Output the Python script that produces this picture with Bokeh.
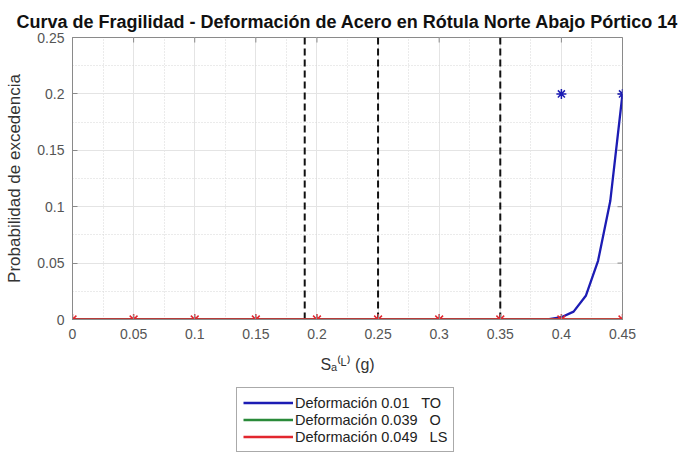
import math
from bokeh.plotting import figure
from bokeh.layouts import column
from bokeh.models import FixedTicker, Legend, LegendItem
from bokeh.embed import file_html
from bokeh.resources import INLINE

# ---- data ----
title_text = "Curva de Fragilidad - Deformación de Acero en Rótula Norte Abajo Pórtico 14"
x_label = "Sₐ⁽ᴸ⁾ (g)"
y_label = "Probabilidad de excedencia"
x_ticks = [0, 0.05, 0.1, 0.15, 0.2, 0.25, 0.3, 0.35, 0.4, 0.45]
y_ticks = [0, 0.05, 0.1, 0.15, 0.2, 0.25]

blue_x = [0, 0.05, 0.1, 0.15, 0.2, 0.25, 0.3, 0.35, 0.38, 0.39, 0.40, 0.41, 0.42, 0.43, 0.44, 0.45]
blue_y = [0, 0, 0, 0, 0, 0, 0, 0, 0, 0.0003, 0.002, 0.007, 0.021, 0.052, 0.105, 0.200]
green_x = [0, 0.05, 0.1, 0.15, 0.2, 0.25, 0.3, 0.35, 0.4, 0.45]
green_y = [0, 0, 0, 0, 0, 0, 0, 0, 0, 0]
red_x = [0, 0.05, 0.1, 0.15, 0.2, 0.25, 0.3, 0.35, 0.4, 0.45]
red_y = [0, 0, 0, 0, 0, 0, 0, 0, 0, 0]
blue_star_x = [0.40, 0.45]
blue_star_y = [0.20, 0.20]
vline_x = [0.19, 0.25, 0.35]
legend_labels = ["Deformación 0.01   TO", "Deformación 0.039   O", "Deformación 0.049   LS"]

BLUE = "#1c1cb4"
GREEN = "#2a8a3a"
RED = "#e2262e"
FONT = "Liberation Sans"
AXC = "#8a8a8a"

p = figure(width=684, height=380, output_backend="svg", toolbar_location=None,
           x_range=(0, 0.45), y_range=(0, 0.25),
           min_border_left=72, min_border_right=62, min_border_top=37, min_border_bottom=61)

p.title.text = title_text
p.title.align = "center"
p.title.vertical_align = "top"
p.title.text_font = FONT
p.title.text_font_style = "bold"
p.title.text_font_size = "18px"
p.title.text_color = "#111111"
p.title.standoff = 8

xt = FixedTicker(ticks=x_ticks, minor_ticks=[0.025 + 0.05 * i for i in range(9)])
yt = FixedTicker(ticks=y_ticks, minor_ticks=[0.025 + 0.05 * i for i in range(5)])

# axes
for ax in (p.xaxis[0], p.yaxis[0]):
    ax.major_tick_in = 5
    ax.major_tick_out = 0
    ax.minor_tick_in = 0
    ax.minor_tick_out = 0
    ax.axis_line_color = AXC
    ax.major_tick_line_color = AXC
    ax.major_label_text_font = FONT
    ax.major_label_text_font_size = "14px"
    ax.major_label_text_color = "#555555"
    ax.axis_label_text_font = FONT
    ax.axis_label_text_font_style = "normal"
    ax.axis_label_text_color = "#333333"
    ax.axis_label_text_font_size = "16px"
p.yaxis[0].axis_label_text_font_size = "17px"
p.xaxis[0].ticker = xt
p.yaxis[0].ticker = yt
p.xaxis[0].major_label_overrides = {t: ("%g" % t) for t in x_ticks}
p.yaxis[0].major_label_overrides = {t: ("%g" % t) for t in y_ticks}
p.xaxis[0].major_label_standoff = 9
p.yaxis[0].major_label_standoff = 8
p.xaxis[0].axis_label = x_label
p.yaxis[0].axis_label = y_label
p.xaxis[0].axis_label_standoff = 14
p.yaxis[0].axis_label_standoff = 10

p.outline_line_color = AXC
p.outline_line_alpha = 1

p.grid.grid_line_color = "#e4e4e4"
p.grid.grid_line_width = 1
p.grid.minor_grid_line_color = "#d6d6d6"
p.grid.minor_grid_line_dash = "1 2"

# mirrored box ticks on top and right edges (half of each dash is clipped by the frame)
p.scatter(x_ticks, [y_ticks[-1]] * len(x_ticks), marker="dash", angle=math.pi / 2,
          size=10, line_color=AXC, line_width=1)
p.scatter([x_ticks[-1]] * len(y_ticks), y_ticks, marker="dash",
          size=10, line_color=AXC, line_width=1)

# vertical dashed lines
p.segment(x0=vline_x, y0=[y_ticks[0]] * 3, x1=vline_x, y1=[y_ticks[-1]] * 3,
          line_color="#111111", line_width=2, line_dash="7 4")

# curves
p.line(blue_x, blue_y, line_color=BLUE, line_width=2.3)
p.line(green_x, green_y, line_color=GREEN, line_width=2.5)
p.line(red_x, red_y, line_color=RED, line_width=2.5)
p.scatter(red_x, red_y, marker="asterisk", size=11, line_color=RED, line_width=1.5)
p.scatter(blue_star_x, blue_star_y, marker="asterisk", size=10, line_color=BLUE, line_width=1.5)

# legend figure (same series, drawn out of view so only the legend shows)
q = figure(width=684, height=73, output_backend="svg", toolbar_location=None,
           x_range=(10, 11), y_range=(10, 11),
           min_border_left=0, min_border_right=0, min_border_top=0, min_border_bottom=0)
q.axis.visible = False
q.grid.visible = False
q.outline_line_color = None
lb = q.line(blue_x, blue_y, line_color=BLUE, line_width=2.5)
lg = q.line(green_x, green_y, line_color=GREEN, line_width=2.5)
lr = q.line(red_x, red_y, line_color=RED, line_width=2.5)

legend = Legend(items=[LegendItem(label=legend_labels[0], renderers=[lb]),
                       LegendItem(label=legend_labels[1], renderers=[lg]),
                       LegendItem(label=legend_labels[2], renderers=[lr])],
                location=(164, 1), orientation="vertical",
                border_line_color="#555555", border_line_width=1,
                label_text_font=FONT, label_text_font_size="14.5px", label_text_color="#222222",
                glyph_width=50, glyph_height=17, label_height=17, spacing=0,
                padding=6, margin=0, label_standoff=2, background_fill_alpha=1)
q.add_layout(legend, "center")

open("out.html", "w").write(file_html(column(p, q, spacing=0), INLINE))
